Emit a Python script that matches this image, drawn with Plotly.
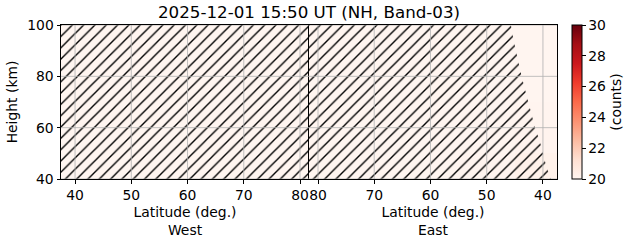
import plotly.graph_objects as go
from plotly.subplots import make_subplots

# ---- data ----
title_text = "2025-12-01 15:50 UT (NH, Band-03)"
lat_range = [37.5, 81.6]
height_range = [40, 100]
lat_centers = [40, 50, 60, 70, 80]
height_centers = [45, 55, 65, 75, 85, 95]
west_counts = [
    [20.0, 20.0, 20.0, 20.0, 20.0],
    [20.0, 20.0, 20.0, 20.0, 20.0],
    [20.0, 20.0, 20.0, 20.0, 20.0],
    [20.0, 20.0, 20.0, 20.0, 20.0],
    [20.0, 20.0, 20.0, 20.0, 20.0],
    [20.0, 20.0, 20.0, 20.0, 20.0],
]
east_counts = [
    [20.25, 20.05, 20.0, 20.0, 20.0],
    [20.1, 20.0, 20.0, 20.0, 20.0],
    [20.05, 20.0, 20.0, 20.0, 20.0],
    [20.0, 20.0, 20.0, 20.0, 20.0],
    [20.0, 20.0, 20.0, 20.0, 20.0],
    [20.0, 20.0, 20.0, 20.0, 20.0],
]
# hatched (masked) region boundary in East panel: latitude of mask edge per height
east_mask_heights = [40, 45, 50, 55, 60, 65, 70, 75, 80, 85, 90, 95, 100]
east_mask_lat = [38.6, 39.4, 40.0, 40.6, 41.4, 42.0, 42.6, 43.2, 43.8, 44.3, 44.8, 45.3, 45.7]
x_ticks = [40, 50, 60, 70, 80]
y_ticks = [40, 60, 80, 100]
cbar_ticks = [20, 22, 24, 26, 28, 30]
cmin, cmax = 20, 30

reds = [
    [0.0, "rgb(255,245,240)"], [0.125, "rgb(254,224,210)"], [0.25, "rgb(252,187,161)"],
    [0.375, "rgb(252,146,114)"], [0.5, "rgb(251,106,74)"], [0.625, "rgb(239,59,44)"],
    [0.75, "rgb(203,24,29)"], [0.875, "rgb(165,15,21)"], [1.0, "rgb(103,0,13)"],
]

FONT = "DejaVu Sans"
FS = 13.9
fig = make_subplots(rows=1, cols=2, horizontal_spacing=0)

fig.add_trace(go.Heatmap(x=lat_centers, y=height_centers, z=west_counts, colorscale=reds,
                         zmin=cmin, zmax=cmax, showscale=False), row=1, col=1)
fig.add_trace(go.Heatmap(x=lat_centers, y=height_centers, z=east_counts, colorscale=reds,
                         zmin=cmin, zmax=cmax, showscale=True,
                         colorbar=dict(x=1.03, xanchor="left", y=0.5, yanchor="middle", len=1,
                                       thickness=10, outlinewidth=1, outlinecolor="black",
                                       xpad=0, ypad=0,
                                       tickvals=cbar_ticks, ticks="outside", ticklen=3.5,
                                       tickcolor="black", tickfont=dict(family=FONT, size=FS, color="black"),
                                       title=dict(text="(counts)", side="right",
                                                  font=dict(family=FONT, size=FS, color="black")))),
              row=1, col=2)

pattern = dict(shape="/", size=8, solidity=0.17, fgcolor="black", fgopacity=1,
               bgcolor="rgba(0,0,0,0)")
# West: fully masked
wx = [lat_range[0], lat_range[1], lat_range[1], lat_range[0], lat_range[0]]
wy = [height_range[0], height_range[0], height_range[1], height_range[1], height_range[0]]
fig.add_trace(go.Scatter(x=wx, y=wy, mode="none", fill="toself", fillcolor="rgba(0,0,0,0)",
                         fillpattern=pattern, hoverinfo="skip", showlegend=False), row=1, col=1)
# East: masked from high latitude down to boundary
ex = [lat_range[1]] + east_mask_lat + [lat_range[1]]
ey = [east_mask_heights[0]] + east_mask_heights + [east_mask_heights[-1]]
fig.add_trace(go.Scatter(x=ex, y=ey, mode="none", fill="toself", fillcolor="rgba(0,0,0,0)",
                         fillpattern=pattern, hoverinfo="skip", showlegend=False), row=1, col=2)

axis_common = dict(showline=True, mirror=True, linecolor="black", linewidth=1, ticks="outside",
                   ticklen=3.5, tickcolor="black", showgrid=False, zeroline=False,
                   tickfont=dict(family=FONT, size=FS, color="black"))
fig.update_xaxes(**axis_common, tickvals=x_ticks)
fig.update_yaxes(**axis_common, tickvals=y_ticks, range=height_range)
fig.update_xaxes(range=lat_range, row=1, col=1,
                 title=dict(text="Latitude (deg.)<br>West", standoff=5,
                            font=dict(family=FONT, size=FS, color="black")))
fig.update_xaxes(range=lat_range[::-1], row=1, col=2,
                 title=dict(text="Latitude (deg.)<br>East", standoff=5,
                            font=dict(family=FONT, size=FS, color="black")))
fig.update_yaxes(row=1, col=1, title=dict(text="Height (km)", standoff=6,
                                          font=dict(family=FONT, size=FS, color="black")))
fig.update_yaxes(row=1, col=2, showticklabels=False, ticks="")

# grid lines drawn above the heatmap (as matplotlib does)
shapes = []
for xr in ["x", "x2"]:
    yr = "y" if xr == "x" else "y2"
    for t in x_ticks:
        shapes.append(dict(type="line", xref=xr, yref=yr + " domain", x0=t, x1=t, y0=0, y1=1,
                           line=dict(color="#b0b0b0", width=0.8), layer="above"))
    for t in y_ticks:
        shapes.append(dict(type="line", xref=xr + " domain", yref=yr, x0=0, x1=1, y0=t, y1=t,
                           line=dict(color="#b0b0b0", width=0.8), layer="above"))
fig.update_layout(shapes=shapes)

fig.update_layout(
    width=631, height=243,
    margin=dict(l=61, r=74, t=25, b=64, autoexpand=False),
    paper_bgcolor="white", plot_bgcolor="white",
    font=dict(family=FONT, size=FS, color="black"),
    title=dict(text=title_text, x=0.5, xref="paper", xanchor="center",
               y=1 - 12 / 243, yref="container", yanchor="middle",
               font=dict(family=FONT, size=16.7, color="black")),
    showlegend=False,
)

fig.write_html("out.html")
